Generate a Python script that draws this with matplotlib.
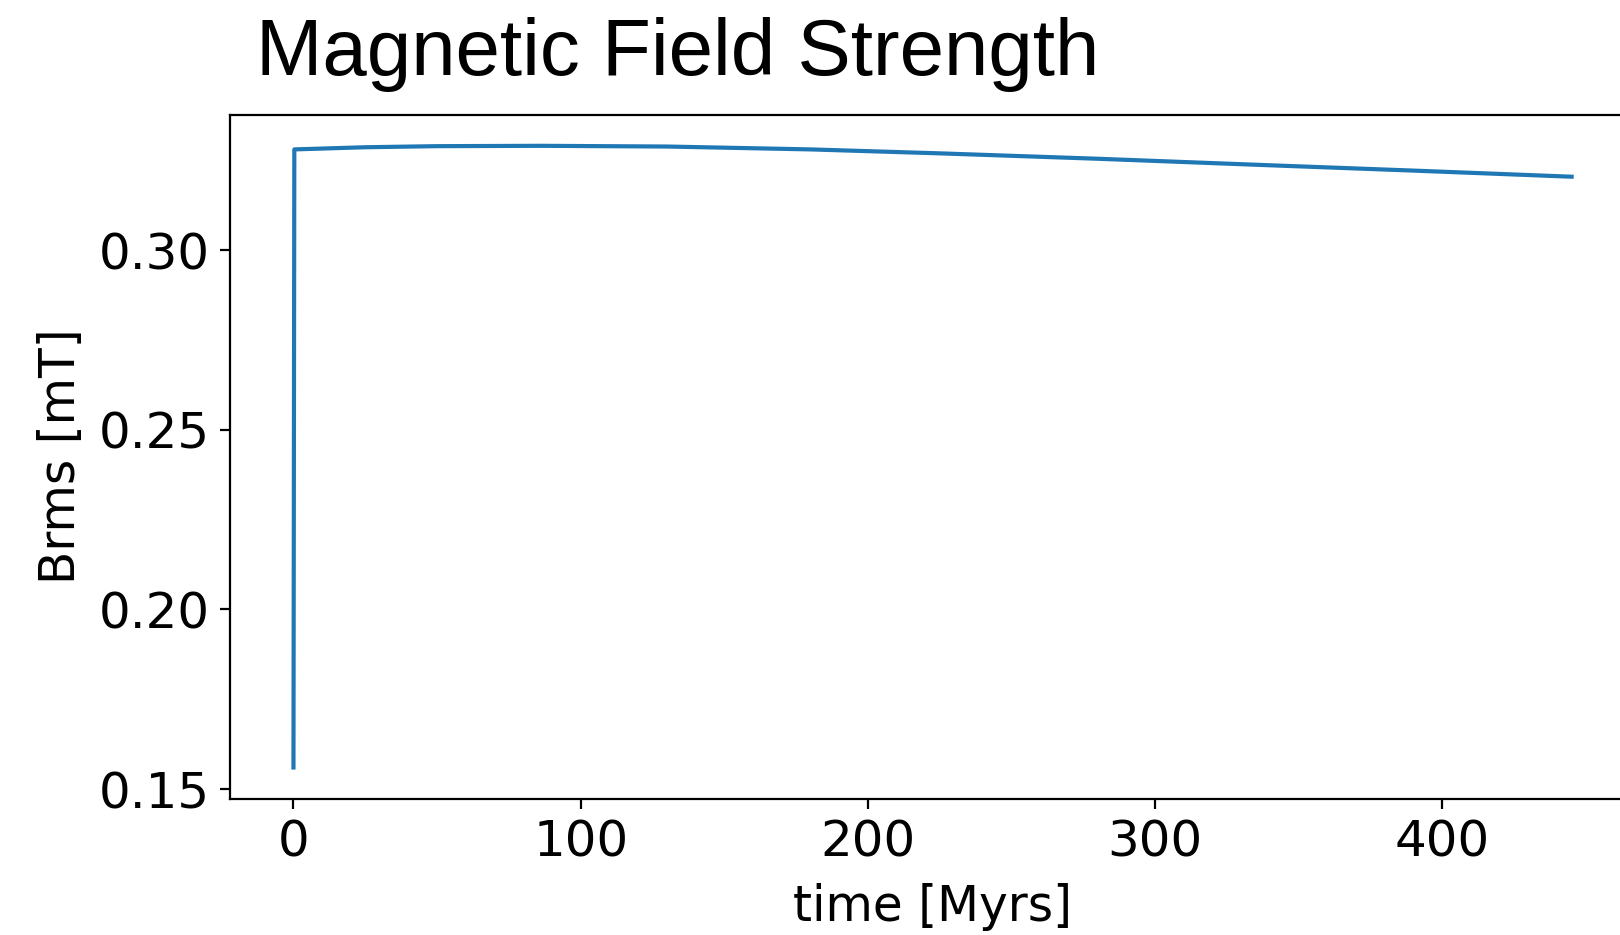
import matplotlib
matplotlib.use("Agg")
import matplotlib.pyplot as plt

# Brms time series
time_myrs = [0.0, 0.3, 25.0, 50.0, 86.0, 130.0, 180.0, 225.0, 280.0, 336.0, 390.0, 445.0]
brms_mt = [0.1560, 0.3280, 0.3286, 0.3289, 0.3290, 0.3288, 0.3280, 0.3269, 0.3254, 0.3237, 0.3221, 0.3204]

fig = plt.figure(figsize=(8.1, 4.675), dpi=200)
ax = fig.add_axes([0.1417, 0.1459, 0.8679, 0.7314])

ax.plot(time_myrs, brms_mt, color="#1f77b4", linewidth=1.5)
ax.set_xticks([0, 100, 200, 300, 400])
ax.set_yticks([0.15, 0.20, 0.25, 0.30])
ax.tick_params(labelsize=18)
ax.set_xlabel("time [Myrs]", fontsize=17.5, labelpad=6)
ax.set_ylabel("Brms [mT]", fontsize=17.5, labelpad=5)

fig.text(0.158, 0.92, "Magnetic Field Strength", fontsize=28.75,
         family="Liberation Sans", ha="left", va="baseline")

fig.savefig("out.png", dpi=200)
